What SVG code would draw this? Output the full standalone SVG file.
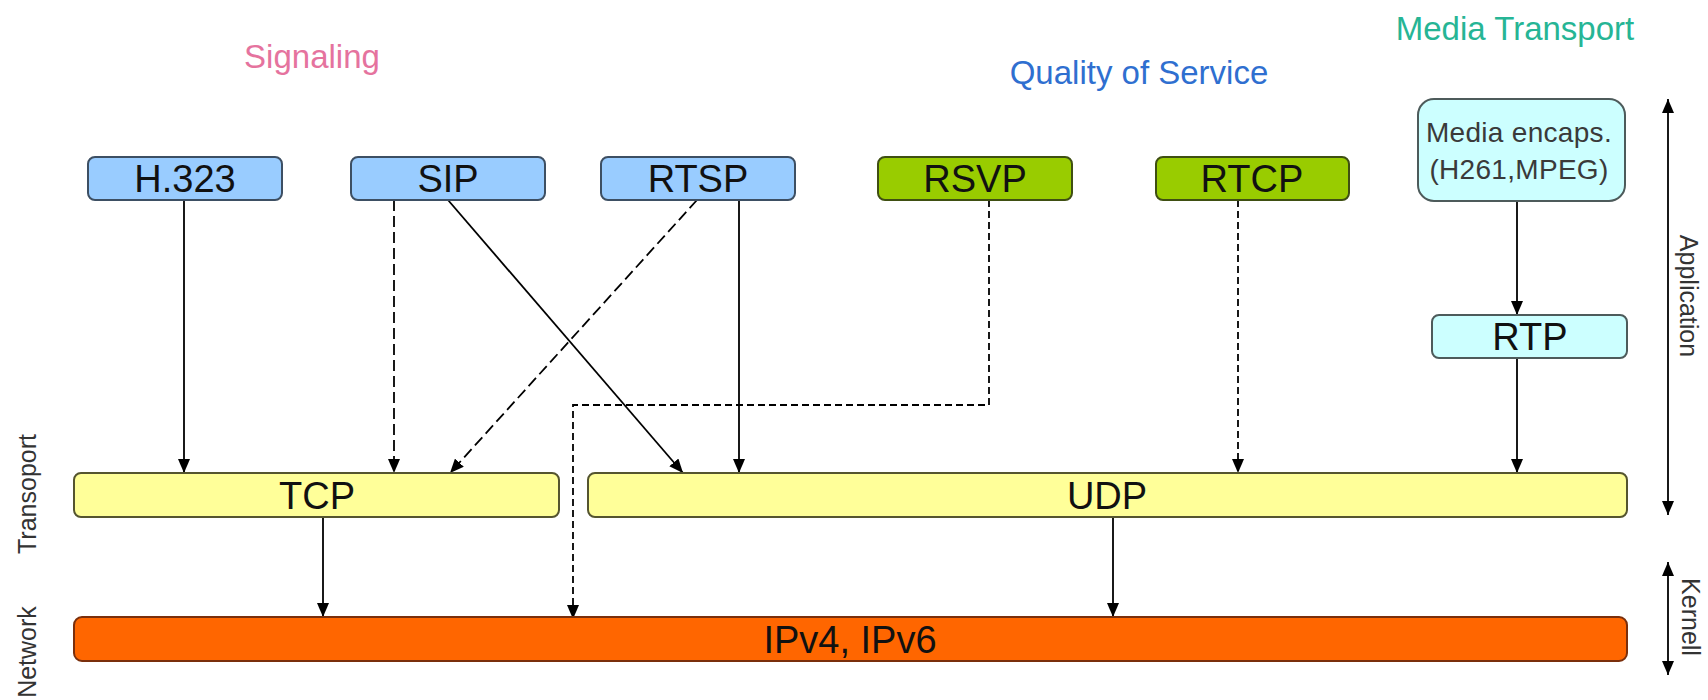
<svg xmlns="http://www.w3.org/2000/svg" width="1708" height="700" viewBox="0 0 1708 700">
  <defs>
    <marker id="arrow" markerUnits="userSpaceOnUse" markerWidth="14" markerHeight="12" refX="14" refY="6" orient="auto-start-reverse">
      <path d="M0,0 L14,6 L0,12 z" fill="#000"/>
    </marker>
    <style>
      .lbl { font-family: "Liberation Sans", Arial, sans-serif; font-size: 38px; fill: #111; text-anchor: middle; }
      .title { font-family: "Liberation Sans", Arial, sans-serif; font-size: 33px; text-anchor: middle; }
      .side { font-family: "Liberation Sans", Arial, sans-serif; font-size: 25px; fill: #333; text-anchor: middle; }
      .small { font-family: "Liberation Sans", Arial, sans-serif; font-size: 28px; fill: #3a3a3a; text-anchor: middle; letter-spacing: 0.3px; }
      .sig { fill: #99ccff; stroke: #3d4f63; stroke-width: 2; }
      .qos { fill: #99cc00; stroke: #3f4f12; stroke-width: 2; }
      .media { fill: #ccffff; stroke: #4d5b5b; stroke-width: 2; }
      .trans { fill: #ffff99; stroke: #55552f; stroke-width: 2; }
      .net { fill: #ff6600; stroke: #7a2f0c; stroke-width: 2; }
      .conn { fill: none; stroke: #000; stroke-width: 1.8; marker-end: url(#arrow); }
      .dash-long { stroke-dasharray: 11 5; }
      .dash-short { stroke-dasharray: 7 4; }
      .span { fill: none; stroke: #000; stroke-width: 1.8; marker-start: url(#arrow); marker-end: url(#arrow); }
    </style>
  </defs>
  <rect width="1708" height="700" fill="#fff"/>

  <!-- column headings -->
  <g id="headings">
    <text class="title" x="312" y="68" fill="#e5739e">Signaling</text>
    <text class="title" x="1139" y="84" fill="#2f6fd0">Quality of Service</text>
    <text class="title" x="1515" y="40" fill="#26b595">Media Transport</text>
  </g>

  <!-- layer side labels -->
  <g id="layer-labels">
    <text class="side" transform="translate(36,494) rotate(-90)">Transoport</text>
    <text class="side" transform="translate(36,652) rotate(-90)">Network</text>
    <path class="span" d="M1668,99 V515"/>
    <text class="side" transform="translate(1680,296) rotate(90)">Application</text>
    <path class="span" d="M1668,562 V675"/>
    <text class="side" transform="translate(1682,617) rotate(90)">Kernell</text>
  </g>

  <!-- connectors -->
  <g id="connectors">
    <path class="conn" d="M184,200 V473"/>
    <path class="conn dash-long" d="M394,200 V473"/>
    <path class="conn" d="M448,200 L683,473"/>
    <path class="conn dash-long" d="M697,200 L450,473"/>
    <path class="conn" d="M739,200 V473"/>
    <path class="conn dash-short" d="M989,200 V405 H573 V619"/>
    <path class="conn dash-short" d="M1238,200 V473"/>
    <path class="conn" d="M1517,201 V315"/>
    <path class="conn" d="M1517,358 V473"/>
    <path class="conn" d="M323,517 V617"/>
    <path class="conn" d="M1113,517 V617"/>
  </g>

  <!-- application protocols -->
  <g id="h323">
    <rect class="sig" x="88" y="157" width="194" height="43" rx="7"/>
    <text class="lbl" x="185" y="192">H.323</text>
  </g>
  <g id="sip">
    <rect class="sig" x="351" y="157" width="194" height="43" rx="7"/>
    <text class="lbl" x="448" y="192">SIP</text>
  </g>
  <g id="rtsp">
    <rect class="sig" x="601" y="157" width="194" height="43" rx="7"/>
    <text class="lbl" x="698" y="192">RTSP</text>
  </g>
  <g id="rsvp">
    <rect class="qos" x="878" y="157" width="194" height="43" rx="7"/>
    <text class="lbl" x="975" y="192">RSVP</text>
  </g>
  <g id="rtcp">
    <rect class="qos" x="1156" y="157" width="193" height="43" rx="7"/>
    <text class="lbl" x="1252" y="192">RTCP</text>
  </g>
  <g id="media-encaps">
    <rect class="media" x="1418" y="99" width="207" height="102" rx="16"/>
    <text class="small" x="1519" y="142">Media encaps.</text>
    <text class="small" x="1519" y="179">(H261,MPEG)</text>
  </g>
  <g id="rtp">
    <rect class="media" x="1432" y="315" width="195" height="43" rx="7"/>
    <text class="lbl" x="1530" y="350">RTP</text>
  </g>

  <!-- transport layer -->
  <g id="tcp">
    <rect class="trans" x="74" y="473" width="485" height="44" rx="7"/>
    <text class="lbl" x="317" y="509">TCP</text>
  </g>
  <g id="udp">
    <rect class="trans" x="588" y="473" width="1039" height="44" rx="7"/>
    <text class="lbl" x="1107" y="509">UDP</text>
  </g>

  <!-- network layer -->
  <g id="ip">
    <rect class="net" x="74" y="617" width="1553" height="44" rx="8"/>
    <text class="lbl" x="850" y="653">IPv4, IPv6</text>
  </g>
</svg>
